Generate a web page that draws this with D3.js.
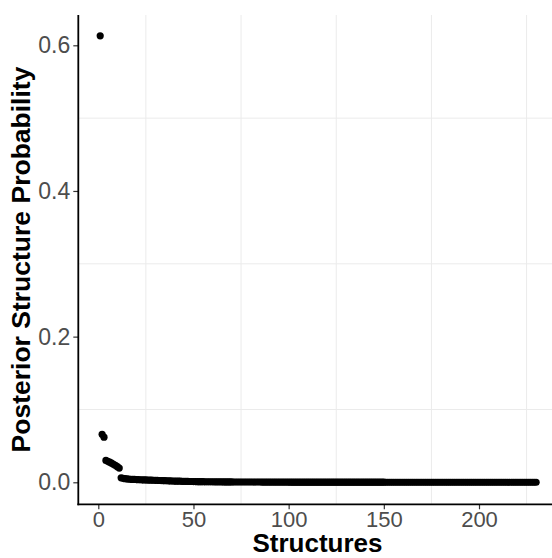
<!DOCTYPE html>
<html>
<head>
<meta charset="utf-8">
<script src="https://cdn.jsdelivr.net/npm/d3@7/dist/d3.min.js"></script>
<style>
  html, body { margin: 0; padding: 0; background: #fff; }
  svg { display: block; }
</style>
</head>
<body>
<svg id="chart" width="552" height="558"></svg>
<script>
// ---- Data ----
const probHead = [0.613, 0.066, 0.062, 0.0300, 0.0288, 0.0276, 0.0262, 0.0248, 0.0232, 0.0214, 0.0195];
const probMid = [0.0062, 0.0055, 0.0050, 0.0046, 0.0043, 0.0041, 0.0040, 0.0039, 0.0038,
  0.0036, 0.0035, 0.0034, 0.0033, 0.0032, 0.0031, 0.0030, 0.0029, 0.0028, 0.0027,
  0.0026, 0.0025, 0.0024, 0.0023, 0.0022, 0.0021, 0.0020, 0.0019, 0.0018, 0.0017,
  0.0016, 0.0015, 0.0015, 0.0014, 0.0013, 0.0013, 0.0012, 0.0011, 0.0011, 0.0010,
  0.0010, 0.0009, 0.0009, 0.0008, 0.0008,
  0.0007, 0.0007, 0.0007, 0.0007, 0.0007, 0.0006, 0.0006, 0.0006, 0.0006, 0.0006,
  0.0005, 0.0005, 0.0005, 0.0005, 0.0005];
const probTail = [
  0.0004, 0.0004, 0.0004, 0.0004, 0.0004, 0.0004, 0.0004, 0.0004, 0.0004, 0.0004,
  0.0004, 0.0004, 0.0004, 0.0004, 0.0004, 0.0003, 0.0003, 0.0003, 0.0003, 0.0003,
  0.0003, 0.0003, 0.0003, 0.0003, 0.0003, 0.0003, 0.0003, 0.0003, 0.0003, 0.0003,
  0.0002, 0.0002, 0.0002, 0.0002, 0.0002, 0.0002, 0.0002, 0.0002, 0.0002, 0.0002,
  0.0002, 0.0002, 0.0002, 0.0002, 0.0002, 0.0002, 0.0002, 0.0002, 0.0002, 0.0002,
  0.0002, 0.0002, 0.0002, 0.0002, 0.0002, 0.0002, 0.0002, 0.0002, 0.0002, 0.0002,
  0.0002, 0.0002, 0.0002, 0.0002, 0.0002, 0.0002, 0.0002, 0.0002, 0.0002, 0.0002,
  0.0002, 0.0002, 0.0002, 0.0002, 0.0002, 0.0002, 0.0002, 0.0002, 0.0002, 0.0002,
  0.0001, 0.0001, 0.0001, 0.0001, 0.0001, 0.0001, 0.0001, 0.0001, 0.0001, 0.0001,
  0.0001, 0.0001, 0.0001, 0.0001, 0.0001, 0.0001, 0.0001, 0.0001, 0.0001, 0.0001,
  0.0001, 0.0001, 0.0001, 0.0001, 0.0001, 0.0001, 0.0001, 0.0001, 0.0001, 0.0001,
  0.0001, 0.0001, 0.0001, 0.0001, 0.0001, 0.0001, 0.0001, 0.0001, 0.0001, 0.0001,
  0.0001, 0.0001, 0.0001, 0.0001, 0.0001, 0.0001, 0.0001, 0.0001, 0.0001, 0.0001,
  0.0001, 0.0001, 0.0001, 0.0001, 0.0001, 0.0001, 0.0001, 0.0001, 0.0001, 0.0001,
  0.0001, 0.0001, 0.0001, 0.0001, 0.0001, 0.0001, 0.0001, 0.0001, 0.0001, 0.0001,
  0.0001, 0.0001, 0.0001, 0.0001, 0.0001, 0.0001, 0.0001, 0.0001, 0.0001, 0.0001];
const probabilities = probHead.concat(probMid, probTail);
const structures = probabilities.map((p, i) => i + 1);

const xTicks = [0, 50, 100, 150, 200];
const xMinor = [25, 75, 125, 175, 225];
const yTicks = [0.0, 0.2, 0.4, 0.6];
const yMinor = [0.1, 0.3, 0.5];
const xTitle = "Structures";
const yTitle = "Posterior Structure Probability";

// ---- Layout ----
const svg = d3.select("#chart");
const panel = { left: 78.3, right: 560, top: 15, bottom: 504.3 };
const x = d3.scaleLinear().domain([0, 200]).range([98.3, 479]);
const y = d3.scaleLinear().domain([0, 0.6]).range([482.3, 45.3]);
const font = "'Liberation Sans', Arial, Helvetica, sans-serif";

// minor gridlines
svg.append("g").selectAll("line").data(xMinor).join("line")
  .attr("x1", d => x(d)).attr("x2", d => x(d))
  .attr("y1", panel.top).attr("y2", panel.bottom)
  .attr("stroke", "#ebebeb").attr("stroke-width", 1);
svg.append("g").selectAll("line").data(yMinor).join("line")
  .attr("x1", panel.left).attr("x2", panel.right)
  .attr("y1", d => y(d)).attr("y2", d => y(d))
  .attr("stroke", "#ebebeb").attr("stroke-width", 1);

// points
svg.append("g").selectAll("circle").data(structures).join("circle")
  .attr("cx", (d) => x(d))
  .attr("cy", (d, i) => y(probabilities[i]))
  .attr("r", 3.6)
  .attr("fill", "#000");

// axes
const xAxis = d3.axisBottom(x).tickValues(xTicks).tickFormat(d3.format("d")).tickSize(5).tickPadding(2);
const gx = svg.append("g").attr("transform", `translate(0,${panel.bottom})`).call(xAxis);
gx.select(".domain").remove();
gx.selectAll(".tick line").attr("stroke", "#333").attr("stroke-width", 1.2);
gx.selectAll(".tick text").attr("fill", "#4d4d4d").attr("font-size", 22).attr("font-family", font);

const yAxis = d3.axisLeft(y).tickValues(yTicks).tickFormat(d3.format(".1f")).tickSize(5).tickPadding(3);
const gy = svg.append("g").attr("transform", `translate(${panel.left},0)`).call(yAxis);
gy.select(".domain").remove();
gy.selectAll(".tick line").attr("stroke", "#333").attr("stroke-width", 1.2);
gy.selectAll(".tick text").attr("fill", "#4d4d4d").attr("font-size", 23).attr("font-family", font);

// axis lines
svg.append("line").attr("x1", panel.left).attr("x2", panel.left)
  .attr("y1", panel.top).attr("y2", panel.bottom + 0.9)
  .attr("stroke", "#000").attr("stroke-width", 1.8);
svg.append("line").attr("x1", panel.left - 0.9).attr("x2", panel.right)
  .attr("y1", panel.bottom).attr("y2", panel.bottom)
  .attr("stroke", "#000").attr("stroke-width", 1.8);

// titles
svg.append("text").attr("x", 317.5).attr("y", 552.3)
  .attr("text-anchor", "middle").attr("font-family", font)
  .attr("font-weight", "bold").attr("font-size", 26).attr("fill", "#000")
  .text(xTitle);
svg.append("text").attr("transform", "translate(29.5,259.5) rotate(-90)")
  .attr("text-anchor", "middle").attr("font-family", font)
  .attr("font-weight", "bold").attr("font-size", 26.5).attr("fill", "#000")
  .text(yTitle);
</script>
</body>
</html>
